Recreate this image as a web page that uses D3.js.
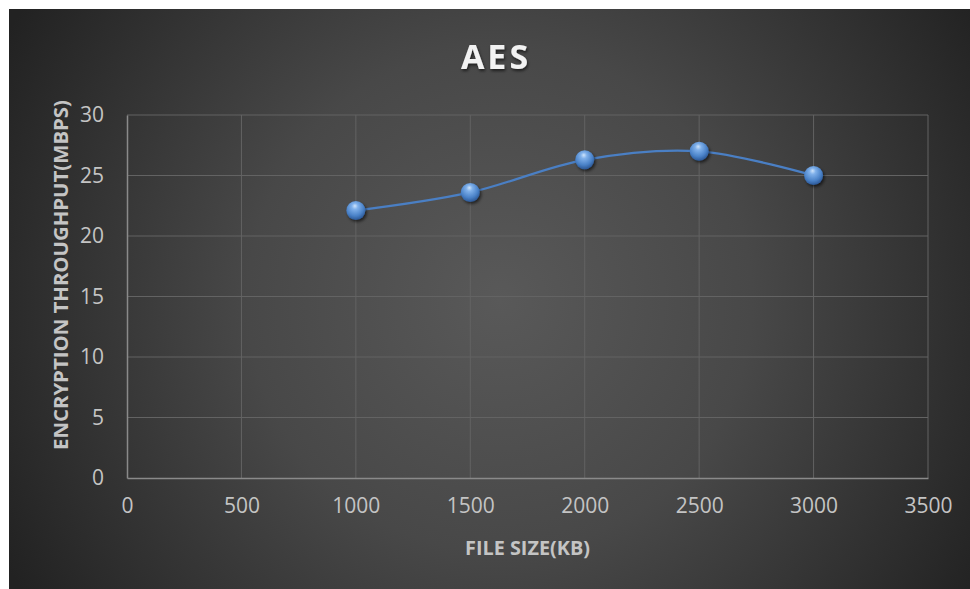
<!DOCTYPE html>
<html>
<head>
<meta charset="utf-8">
<script src="https://cdn.jsdelivr.net/npm/d3@7"></script>
<style>
  html, body { margin: 0; padding: 0; background: #ffffff; }
  svg { display: block; }
</style>
</head>
<body>
<svg id="chart" width="970" height="589"></svg>
<script>
// Data
const fileSizes = [1000, 1500, 2000, 2500, 3000];
const throughput = [22.1, 23.6, 26.3, 27.0, 25.0];
const xTicks = [0, 500, 1000, 1500, 2000, 2500, 3000, 3500];
const yTicks = [0, 5, 10, 15, 20, 25, 30];
const chartTitle = "AES";
const xTitle = "FILE SIZE(KB)";
const yTitle = "ENCRYPTION THROUGHPUT(MBPS)";

const W = 970, H = 589;
const margin = { left: 127, right: 42, top: 115, bottom: 111 };
const svg = d3.select("#chart");
const defs = svg.append("defs");

// Background: dark radial gradient, lighter toward the middle
const bg = defs.append("radialGradient").attr("id", "bgGrad")
  .attr("gradientUnits", "userSpaceOnUse")
  .attr("cx", 500).attr("cy", 300).attr("r", 560);
bg.append("stop").attr("offset", "0%").attr("stop-color", "#595959");
bg.append("stop").attr("offset", "45%").attr("stop-color", "#484848");
bg.append("stop").attr("offset", "100%").attr("stop-color", "#222222");
svg.append("rect").attr("x", 9).attr("y", 9).attr("width", W - 9).attr("height", H - 9)
  .attr("fill", "url(#bgGrad)");

// Marker sphere gradient
const sph = defs.append("radialGradient").attr("id", "sphere")
  .attr("cx", "45%").attr("cy", "35%").attr("r", "65%").attr("fx", "45%").attr("fy", "25%");
sph.append("stop").attr("offset", "0%").attr("stop-color", "#cfe4fb");
sph.append("stop").attr("offset", "25%").attr("stop-color", "#7fb0ea");
sph.append("stop").attr("offset", "70%").attr("stop-color", "#4a82c8");
sph.append("stop").attr("offset", "100%").attr("stop-color", "#2b5795");

const shadow = defs.append("filter").attr("id", "shadow")
  .attr("x", "-50%").attr("y", "-50%").attr("width", "200%").attr("height", "200%");
shadow.append("feDropShadow").attr("dx", 1.5).attr("dy", 2).attr("stdDeviation", 1.6)
  .attr("flood-color", "#000").attr("flood-opacity", 0.6);

const titleShadow = defs.append("filter").attr("id", "titleShadow")
  .attr("x", "-20%").attr("y", "-20%").attr("width", "140%").attr("height", "140%");
titleShadow.append("feDropShadow").attr("dx", 1).attr("dy", 2).attr("stdDeviation", 1.5)
  .attr("flood-color", "#000").attr("flood-opacity", 0.6);

// Scales
const x = d3.scaleLinear().domain([0, 3500]).range([margin.left, W - margin.right]);
const y = d3.scaleLinear().domain([0, 30]).range([H - margin.bottom, margin.top]);

const font = "'Open Sans', sans-serif";

// Gridlines
const grid = svg.append("g");
grid.selectAll("line.v").data(xTicks.slice(1)).join("line")
  .attr("x1", d => x(d)).attr("x2", d => x(d))
  .attr("y1", y(0)).attr("y2", y(30))
  .attr("stroke", "#636363").attr("stroke-width", 1);
grid.selectAll("line.h").data(yTicks.slice(1)).join("line")
  .attr("x1", x(0)).attr("x2", x(3500))
  .attr("y1", d => y(d)).attr("y2", d => y(d))
  .attr("stroke", "#636363").attr("stroke-width", 1);

// Axes
const xAxis = svg.append("g").attr("transform", `translate(0,${y(0)})`)
  .call(d3.axisBottom(x).tickValues(xTicks).tickFormat(d3.format("d")).tickSize(0).tickPadding(20));
const yAxis = svg.append("g").attr("transform", `translate(${x(0)},0)`)
  .call(d3.axisLeft(y).tickValues(yTicks).tickFormat(d3.format("d")).tickSize(0).tickPadding(23));
[xAxis, yAxis].forEach(a => {
  a.select(".domain").attr("stroke", "#8a8a8a").attr("stroke-width", 1.5);
  a.selectAll("text").attr("fill", "#c4c4c4").attr("font-family", font).attr("font-size", 21);
});
xAxis.selectAll("text").attr("dy", "0.71em");

// Smoothed line
const pts = fileSizes.map((f, i) => [f, throughput[i]]);
const line = d3.line().x(d => x(d[0])).y(d => y(d[1])).curve(d3.curveCatmullRom.alpha(0.5));
svg.append("path").datum(pts).attr("d", line)
  .attr("fill", "none").attr("stroke", "#4a7fc4").attr("stroke-width", 2.25);

// Markers
svg.append("g").selectAll("circle").data(pts).join("circle")
  .attr("cx", d => x(d[0])).attr("cy", d => y(d[1])).attr("r", 9.5)
  .attr("fill", "url(#sphere)").attr("filter", "url(#shadow)");

// Titles
svg.append("text").attr("x", 496).attr("y", 69).attr("text-anchor", "middle")
  .attr("font-family", font).attr("font-weight", 700).attr("font-size", 34)
  .attr("letter-spacing", 3).attr("fill", "#f2f2f2").attr("filter", "url(#titleShadow)")
  .text(chartTitle);

svg.append("text").attr("x", (x(0) + x(3500)) / 2).attr("y", 555).attr("text-anchor", "middle")
  .attr("font-family", font).attr("font-weight", 700).attr("font-size", 19)
  .attr("fill", "#c4c4c4").attr("textLength", 125).attr("lengthAdjust", "spacingAndGlyphs")
  .text(xTitle);

svg.append("text").attr("transform", `translate(68,275) rotate(-90)`).attr("text-anchor", "middle")
  .attr("font-family", font).attr("font-weight", 700).attr("font-size", 19)
  .attr("fill", "#c4c4c4").attr("textLength", 350).attr("lengthAdjust", "spacingAndGlyphs")
  .text(yTitle);
</script>
</body>
</html>
